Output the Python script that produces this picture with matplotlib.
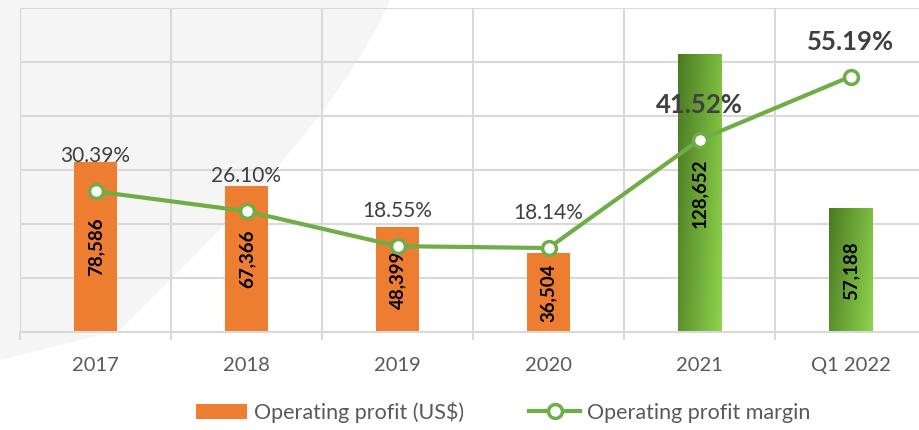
import numpy as np
import matplotlib.pyplot as plt
from matplotlib.lines import Line2D
from matplotlib.patches import Patch, PathPatch
from matplotlib.path import Path

plt.rcParams['font.family'] = ['Lato', 'DejaVu Sans']

categories = ['2017', '2018', '2019', '2020', '2021', 'Q1 2022']
profit = [78586, 67366, 48399, 36504, 128652, 57188]
margin = [30.39, 26.10, 18.55, 18.14, 41.52, 55.19]
highlight = [False, False, False, False, True, True]

ORANGE = '#ED7D31'
GREEN = '#70AD47'
GRID = '#d9d9d9'

fig = plt.figure(figsize=(9.2, 4.3), dpi=100)

# faint watermark shape in the background (top-left)
W, H = 920, 430
pts = [(0, 0), (390, 0), (360, 70), (290, 160), (200, 250), (120, 330), (0, 360), (0, 0)]
codes = [Path.MOVETO, Path.LINETO, Path.CURVE4, Path.CURVE4, Path.CURVE4,
         Path.LINETO, Path.LINETO, Path.CLOSEPOLY]
verts = [(px / W, 1 - py / H) for px, py in pts]
fig.patches.append(PathPatch(Path(verts, codes), transform=fig.transFigure,
                             facecolor='#f5f5f5', edgecolor='none', zorder=-10))

ax = fig.add_axes([20/920, 98/430, 906/920, 324/430])
ax.patch.set_visible(False)
x = np.arange(len(categories))

bars = ax.bar(x, profit, width=0.29, color=ORANGE, zorder=2)

# green gradient for the highlighted bars
grad = np.linspace(0, 1, 64)
gx, gy = np.meshgrid(grad, grad)
g = 0.75 * gx + 0.25 * gy
cmap = plt.matplotlib.colors.LinearSegmentedColormap.from_list('g', ['#4a7a22', '#8fd44c'])
for b, h in zip(bars, highlight):
    if not h:
        continue
    b.set_facecolor('none')
    x0, w, hh = b.get_x(), b.get_width(), b.get_height()
    im = ax.imshow(g, extent=[x0, x0 + w, 0, hh], origin='upper', cmap=cmap,
                   aspect='auto', zorder=2)
    im.set_clip_path(b)

ax.set_xlim(-0.5, 5.5)
ax.set_ylim(0, 150000)
ax.set_yticks(np.arange(0, 150001, 25000))
ax.set_xticks(x)
ax.set_xticklabels(categories, fontsize=14.5, color='#595959')
ax.set_xticks(np.arange(-0.5, 6, 1), minor=True)
ax.grid(axis='y', color=GRID, lw=1.5, zorder=0)
ax.grid(axis='x', which='minor', color=GRID, lw=1.5, zorder=0)
for s in ['top', 'right', 'left']:
    ax.spines[s].set_visible(False)
ax.spines['bottom'].set_color(GRID)
ax.spines['bottom'].set_linewidth(1.5)
ax.set_axisbelow(True)

for xi, v in zip(x, profit):
    ax.text(xi, v / 2, f'{v:,}', rotation=90, ha='center', va='center',
            fontsize=13.5, fontweight='bold', color='black', zorder=5)

ax2 = ax.twinx()
ax2.set_ylim(0, 70)
ax2.axis('off')
ax2.plot(x, margin, color=GREEN, lw=3, marker='o', ms=10, mfc='white',
         mec=GREEN, mew=2.5, zorder=3)
for xi, m, h in zip(x, margin, highlight):
    ax2.annotate(f'{m:.2f}%', (xi, m), xytext=(0, 35), textcoords='offset pixels',
                 ha='center', va='center', color='#404040',
                 fontsize=18.5 if h else 15, fontweight='bold' if h else 'normal')

# tick styling after twinx (twinx re-enables left ticks)
ax.tick_params(axis='x', which='major', length=0, pad=18)
ax.tick_params(axis='x', which='minor', length=6, color=GRID, width=1.5)
ax.tick_params(axis='y', which='both', left=False, right=False,
               labelleft=False, labelright=False)

handles = [Patch(facecolor=ORANGE, edgecolor='none'),
           Line2D([], [], color=GREEN, lw=3, marker='o', ms=10, mfc='white',
                  mec=GREEN, mew=2.5)]
fig.legend(handles, ['Operating profit (US$)', 'Operating profit margin'],
           loc='center', bbox_to_anchor=(503/920, 18/430), ncol=2, frameon=False,
           fontsize=15.5, labelcolor='#595959', handlelength=2.4, handletextpad=0.3,
           columnspacing=3.0)

fig.savefig('out.png', dpi=100)
